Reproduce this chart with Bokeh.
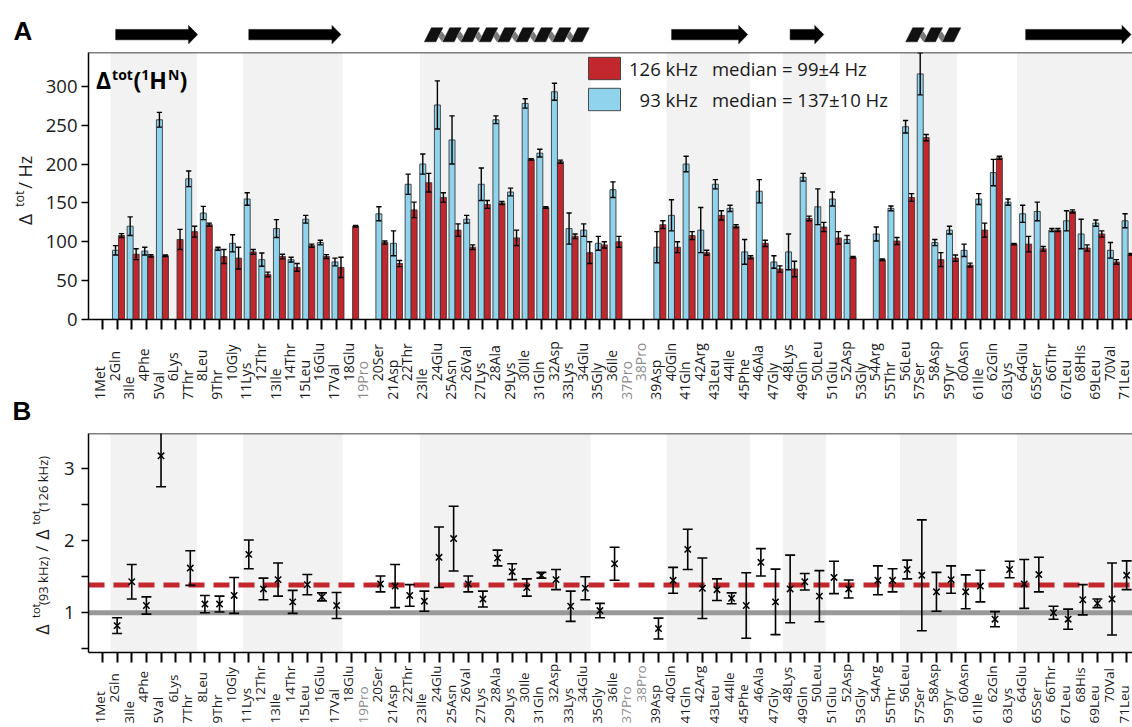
import math
from bokeh.plotting import figure
from bokeh.models import (Range1d, FixedTicker, ColumnDataSource,
                          BoxAnnotation, Span, Legend, LegendItem)
from bokeh.layouts import column, row
from bokeh.embed import file_html
from bokeh.resources import INLINE
from bokeh.core.properties import value

nan = float("nan")

# ---------------- data ----------------
residue_numbers = list(range(1, 72))
residue_names = ["Met", "Gln", "Ile", "Phe", "Val", "Lys", "Thr", "Leu", "Thr", "Gly",
                 "Lys", "Thr", "Ile", "Thr", "Leu", "Glu", "Val", "Glu", "Pro", "Ser",
                 "Asp", "Thr", "Ile", "Glu", "Asn", "Val", "Lys", "Ala", "Lys", "Ile",
                 "Gln", "Asp", "Lys", "Glu", "Gly", "Ile", "Pro", "Pro", "Asp", "Gln",
                 "Gln", "Arg", "Leu", "Ile", "Phe", "Ala", "Gly", "Lys", "Gln", "Leu",
                 "Glu", "Asp", "Gly", "Arg", "Thr", "Leu", "Ser", "Asp", "Tyr", "Asn",
                 "Ile", "Gln", "Lys", "Glu", "Ser", "Thr", "Leu", "His", "Leu", "Val", "Leu"]
tick_labels = [f"{n}{a}" for n, a in zip(residue_numbers, residue_names)]

# Delta_tot(1H^N) at 93 kHz (blue) and 126 kHz (red), Hz
delta_93 = [nan, 89, 120, 88, 257, nan, 181, 137, 91, 98,
            155, 77, 117, 77, 129, 99, 74, nan, nan, 136,
            98, 174, 200, 276, 231, 129, 174, 257, 164, 278,
            214, 293, 117, 115, 98, 167, nan, nan, 93, 134,
            200, 115, 174, 143, 87, 165, 74, 87, 183, 145,
            155, 103, nan, 110, 143, 248, 316, 99, 115, 89,
            155, 189, 151, 136, 139, 115, 127, 110, 124, 89, 127]
err_93 = [nan, 6, 12, 5, 9.5, nan, 10, 8.5, 2, 11,
          8, 8.5, 11.5, 3, 5, 3, 5, nan, nan, 9,
          16, 13, 13, 31, 31, 5, 21, 5, 5, 6,
          5, 11, 20, 8, 9, 10, nan, nan, 20, 20,
          10, 29, 6, 4, 16, 15, 8, 23, 5, 23,
          9, 5, nan, 9, 3, 8, 27, 4, 5, 8,
          7, 17, 4, 11, 12, 2, 13, 19, 4, 10, 9]
delta_126 = [nan, 108, 84, 82, 82, 103, 113, 122, 81, 79,
             87, 58, 81, 67, 95, 81, 67, 120, nan, 99,
             72, 141, 176, 157, 115, 93, 148, 150, 105, 206,
             144, 203, 107, 86, 96, 100, nan, nan, 122, 93,
             108, 86, 134, 120, 80, 98, 65, 65, 130, 119,
             105, 80, nan, 77, 101, 157, 234, 77, 79, 70,
             115, 208, 97, 97, 91, 115, 139, 92, 110, 74, 84]
err_126 = [nan, 2.5, 7, 1.5, 1, 13, 7, 2, 9, 14,
           3, 3, 3, 5, 2, 2.5, 13, 1, nan, 2,
           4, 10, 12, 6, 8, 3, 5, 2, 10, 1,
           1, 2, 3, 14, 4, 7, nan, nan, 5, 7,
           5, 3, 6, 2, 2, 4, 4, 10, 3, 6,
           8, 1, nan, 1, 4.5, 5, 4, 9, 4, 2.5,
           9, 2, 1, 10, 3, 2, 2, 4, 4, 3, 1]

# ratio Delta_tot(93 kHz) / Delta_tot(126 kHz)
ratio = [nan, 0.82, 1.43, 1.10, 3.18, nan, 1.62, 1.12, 1.12, 1.24,
         1.81, 1.33, 1.46, 1.15, 1.39, 1.22, 1.10, nan, nan, 1.40,
         1.37, 1.24, 1.16, 1.77, 2.03, 1.40, 1.19, 1.76, 1.57, 1.35,
         1.52, 1.46, 1.09, 1.34, 1.03, 1.68, nan, nan, 0.78, 1.45,
         1.88, 1.34, 1.32, 1.20, 1.10, 1.70, 1.15, 1.33, 1.43, 1.23,
         1.49, 1.33, nan, 1.45, 1.45, 1.60, 1.52, 1.29, 1.46, 1.29,
         1.37, 0.91, 1.60, 1.40, 1.53, 1.00, 0.91, 1.18, 1.13, 1.19, 1.52]
ratio_err = [nan, 0.11, 0.24, 0.12, 0.43, nan, 0.24, 0.12, 0.11, 0.25,
             0.20, 0.15, 0.23, 0.16, 0.14, 0.055, 0.18, nan, nan, 0.11,
             0.30, 0.15, 0.14, 0.42, 0.45, 0.11, 0.11, 0.11, 0.11, 0.12,
             0.04, 0.14, 0.21, 0.16, 0.10, 0.23, nan, nan, 0.145, 0.18,
             0.28, 0.42, 0.15, 0.076, 0.455, 0.19, 0.455, 0.47, 0.115, 0.355,
             0.225, 0.125, nan, 0.20, 0.16, 0.13, 0.77, 0.27, 0.19, 0.235,
             0.22, 0.105, 0.115, 0.34, 0.24, 0.09, 0.14, 0.21, 0.06, 0.50, 0.20]

median_126 = 99
median_126_err = 4
median_93 = 137
median_93_err = 10

# secondary structure (residue units)
strand_start = [1.9, 11.0, 39.9, 48.0, 64.1]
strand_end = [7.5, 17.3, 45.1, 50.3, 71.3]
helix_start = [23.0, 55.9]
helix_end = [34.4, 59.3]
shade_start = [1.55, 10.6, 22.7, 39.55, 47.5, 55.5, 63.5]
shade_end = [7.45, 17.4, 34.35, 45.25, 50.45, 59.4, 72.0]

y_ticks_top = [0, 50, 100, 150, 200, 250, 300]
y_ticks_ratio = [1, 2, 3]
y_minor_ratio = [0.5, 1.5, 2.5]

# ---------------- style / layout ----------------
FONT = "Open Sans"
RED = "#c1272d"
BLUE = "#8fd3ec"
OUTL = "#333333"
SHADE = "#f2f2f2"
TXT = "#1a1a1a"
W = 1132          # page width
FL = 88           # frame left (page px)
TWA = 40          # width of y-title strip, panel A
TWB = 56          # width of y-title strip, panel B
x_range = Range1d(0.043, 71.4)
PX = (x_range.end - x_range.start) / (W - FL)  # residues per pixel
x_full = Range1d(x_range.start - FL * PX, x_range.end)  # full-width strips


def strip(height, xr, yr, width=W):
    f = figure(width=width, height=height, x_range=xr, y_range=yr,
               x_axis_type=None, y_axis_type=None, toolbar_location=None,
               output_backend="svg", min_border_left=0, min_border_right=0,
               min_border_top=0, min_border_bottom=0)
    f.outline_line_color = None
    f.background_fill_color = "white"
    f.border_fill_color = "white"
    f.grid.visible = False
    return f


def rot_text(f, pieces):
    f.text(x=[p[1] for p in pieces], y=[p[2] for p in pieces], text=[p[0] for p in pieces],
           text_font_size=[p[3] for p in pieces], angle=math.pi / 2,
           text_align="left", text_baseline="middle", text_font=value(FONT), text_color=TXT)


# ---------------- secondary structure strip (page y 0..51 -> y = 51 - page_y) ----------------
pa = strip(51, x_full, Range1d(0, 51))
yc, bh, hh, hl = 16.9, 5.2, 9.2, 9 * PX
axs, ays = [], []
for s, e in zip(strand_start, strand_end):
    axs.append([s, e - hl, e - hl, e, e - hl, e - hl, s])
    ays.append([yc - bh, yc - bh, yc - hh, yc, yc + hh, yc + bh, yc + bh])
pa.patches(axs, ays, fill_color="black", line_color="black", line_width=0.5)

P, SL, WD = 18.3 * PX, 7 * PX, 11.5 * PX
yb, yt = 9.7, 23.7
hx, hy, dx, dy = [], [], [], []
for s, e in zip(helix_start, helix_end):
    starts = []
    b = s
    while b + SL + WD <= e + 6 * PX:
        starts.append(b)
        b += P
    for i, b in enumerate(starts):
        hx.append([b, b + WD, b + WD + SL, b + SL])
        hy.append([yb, yb, yt, yt])
        if i < len(starts) - 1:
            ym = 15.0
            xc = b + WD + (P - WD) / 2 + SL * (ym - yb) / (yt - yb)
            dx.append([xc, xc + 3.6 * PX, xc, xc - 3.6 * PX])
            dy.append([ym - 5.2, ym, ym + 5.2, ym])
pa.patches(hx, hy, fill_color="#111111", line_color="#111111", line_width=0.5)
pa.patches(dx, dy, fill_color="#7a7a7a", line_color=None)
pa.text(x=[x_full.start + 13 * PX], y=[21], text=["A"], text_font=value("Liberation Sans"),
        text_font_style="bold", text_font_size="26px", text_color="black",
        text_align="left", text_baseline="middle")

# ---------------- panel A (page y 51..331) ----------------
p1 = figure(width=W - TWA, height=280, x_range=x_range, y_range=Range1d(0, 343.5),
            toolbar_location=None, output_backend="svg",
            min_border_left=FL - TWA, min_border_right=0, min_border_top=1, min_border_bottom=12)
p1.grid.visible = False
p1.outline_line_color = None
p1.background_fill_color = "white"
p1.border_fill_color = "white"
for s, e in zip(shade_start, shade_end):
    p1.add_layout(BoxAnnotation(left=s, right=e, fill_color=SHADE, fill_alpha=1.0,
                                line_color=None, level="underlay"))
p1.add_layout(Span(location=343.5, dimension="width", line_color="black", line_width=1.5))

xb = [r - 0.11 for r in residue_numbers]
xr = [r + 0.30 for r in residue_numbers]
cap = 0.18
src1 = ColumnDataSource(dict(
    xb=xb, xr=xr,
    xb0=[x - cap for x in xb], xb1=[x + cap for x in xb],
    xr0=[x - cap for x in xr], xr1=[x + cap for x in xr],
    b=delta_93, blo=[v - e for v, e in zip(delta_93, err_93)], bhi=[v + e for v, e in zip(delta_93, err_93)],
    r=delta_126, rlo=[v - e for v, e in zip(delta_126, err_126)], rhi=[v + e for v, e in zip(delta_126, err_126)],
))
r_blue = p1.vbar(x="xb", top="b", bottom=0, width=0.41, source=src1, fill_color=BLUE,
                 line_color=OUTL, line_width=1, line_alpha=0.85)
r_red = p1.vbar(x="xr", top="r", bottom=0, width=0.41, source=src1, fill_color=RED,
                line_color=OUTL, line_width=1, line_alpha=0.85)
for xc_, x0_, x1_, lo, hi in (("xb", "xb0", "xb1", "blo", "bhi"), ("xr", "xr0", "xr1", "rlo", "rhi")):
    p1.segment(x0=xc_, y0=lo, x1=xc_, y1=hi, source=src1, line_color="black", line_width=1.4)
    p1.segment(x0=x0_, y0=lo, x1=x1_, y1=lo, source=src1, line_color="black", line_width=1.4)
    p1.segment(x0=x0_, y0=hi, x1=x1_, y1=hi, source=src1, line_color="black", line_width=1.4)

legend = Legend(items=[
    LegendItem(label=f"126 kHz\u00a0\u00a0\u00a0median = {median_126}\u00b1{median_126_err} Hz", renderers=[r_red]),
    LegendItem(label=f"\u200793 kHz\u00a0\u00a0\u00a0median = {median_93}\u00b1{median_93_err} Hz", renderers=[r_blue]),
], location=(496, 206), orientation="vertical", border_line_color=None,
    background_fill_alpha=0, padding=0, margin=0, spacing=3, glyph_width=40, glyph_height=28,
    label_standoff=5, label_text_font=FONT, label_text_font_size="18.5px",
    label_text_color=TXT, label_height=27)
p1.add_layout(legend)

p1.yaxis.ticker = FixedTicker(ticks=y_ticks_top)
p1.xaxis.ticker = FixedTicker(ticks=residue_numbers)
for ax in (p1.xaxis, p1.yaxis):
    ax.axis_line_width = 1.5
    ax.axis_line_color = "black"
    ax.major_tick_line_color = "black"
    ax.minor_tick_line_color = None
    ax.major_tick_in = 0
p1.yaxis.major_tick_out = 7
p1.yaxis.major_tick_line_width = 1.5
p1.yaxis.major_label_text_font = FONT
p1.yaxis.major_label_text_font_size = "18.5px"
p1.yaxis.major_label_text_color = TXT
p1.yaxis.major_label_standoff = 4
p1.xaxis.major_tick_out = 10
p1.xaxis.major_tick_line_width = 2
p1.xaxis.major_label_text_color = None
p1.xaxis.major_label_text_font_size = "0px"
p1.xaxis.major_label_standoff = 0

# panel title  Δ^tot(1H^N)  (x: px right of frame left, y: px above frame bottom, centre of text)
title_pieces = [("\u0394", 7.5, 239.6, "23px"), ("tot", 23.6, 244.6, "14px"), ("(", 45.0, 239.6, "23px"),
                ("1", 52.8, 244.6, "14px"), ("H", 60.8, 239.6, "23px"), ("N", 79.4, 244.6, "14px"),
                (")", 91.0, 239.6, "23px")]
sc = (p1.y_range.end - p1.y_range.start) / 267.0
p1.text(x=[x_range.start + t[1] * PX for t in title_pieces],
        y=[t[2] * sc for t in title_pieces], text=[t[0] for t in title_pieces],
        text_font_size=[t[3] for t in title_pieces], text_font=value(FONT), text_font_style="bold",
        text_color="black", text_align="left", text_baseline="middle")

# y title strip for A (page y 51..331 -> y = 331 - page_y)
tA = strip(280, Range1d(0, TWA), Range1d(0, 280), width=TWA)
rot_text(tA, [("\u0394", 24.3, 99, "19px"), ("tot", 19.2, 118, "12.5px"), ("/ Hz", 24.7, 137, "18px")])

# ---------------- tick labels A + "B" (page y 331..428 -> y = 428 - page_y) ----------------
tick_color = ["#8c8c8c" if a == "Pro" else TXT for a in residue_names]
sA = strip(97, x_full, Range1d(0, 97))
sA.text(x=residue_numbers, y=[47.2 if n % 2 == 0 else 28.8 for n in residue_numbers], text=tick_labels,
        text_color=tick_color, angle=math.pi / 2, text_align="left", text_baseline="middle",
        x_offset=-3, text_font=value(FONT), text_font_size="14px")
sA.text(x=[x_full.start + 12 * PX], y=[17.1], text=["B"], text_font=value("Liberation Sans"),
        text_font_style="bold", text_font_size="26px", text_color="black",
        text_align="left", text_baseline="middle")

# ---------------- panel B (page y 428..663) ----------------
p2 = figure(width=W - TWB, height=235, x_range=x_range, y_range=Range1d(0.447, 3.49),
            toolbar_location=None, output_backend="svg",
            min_border_left=FL - TWB, min_border_right=0, min_border_top=5, min_border_bottom=11)
p2.grid.visible = False
p2.outline_line_color = None
p2.background_fill_color = "white"
p2.border_fill_color = "white"
for s, e in zip(shade_start, shade_end):
    p2.add_layout(BoxAnnotation(left=s, right=e, fill_color=SHADE, fill_alpha=1.0,
                                line_color=None, level="underlay"))
p2.add_layout(Span(location=1.0, dimension="width", line_color="#999999", line_width=5, level="underlay"))
p2.add_layout(Span(location=median_93 / median_126, dimension="width", line_color=RED, line_width=5,
                   line_dash="16 9", level="underlay"))
p2.add_layout(Span(location=3.49, dimension="width", line_color="black", line_width=1.5))

cap2 = 0.34
src2 = ColumnDataSource(dict(
    x=residue_numbers, x0=[r - cap2 for r in residue_numbers], x1=[r + cap2 for r in residue_numbers],
    y=ratio, lo=[v - e for v, e in zip(ratio, ratio_err)], hi=[v + e for v, e in zip(ratio, ratio_err)],
))
p2.segment(x0="x", y0="lo", x1="x", y1="hi", source=src2, line_color="black", line_width=1.6)
p2.segment(x0="x0", y0="lo", x1="x1", y1="lo", source=src2, line_color="black", line_width=1.6)
p2.segment(x0="x0", y0="hi", x1="x1", y1="hi", source=src2, line_color="black", line_width=1.6)
p2.scatter(x="x", y="y", source=src2, marker="x", size=9, line_color="black", line_width=1.5)

p2.yaxis.ticker = FixedTicker(ticks=y_ticks_ratio, minor_ticks=y_minor_ratio)
p2.xaxis.ticker = FixedTicker(ticks=residue_numbers)
for ax in (p2.xaxis, p2.yaxis):
    ax.axis_line_width = 1.5
    ax.axis_line_color = "black"
    ax.major_tick_line_color = "black"
    ax.major_tick_in = 0
p2.yaxis.major_tick_out = 7
p2.yaxis.minor_tick_out = 7
p2.yaxis.minor_tick_in = 0
p2.yaxis.minor_tick_line_color = "black"
p2.yaxis.minor_tick_line_width = 1.5
p2.yaxis.major_tick_line_width = 1.5
p2.yaxis.major_label_text_font = FONT
p2.yaxis.major_label_text_font_size = "18.5px"
p2.yaxis.major_label_text_color = TXT
p2.yaxis.major_label_standoff = 7
p2.xaxis.minor_tick_line_color = None
p2.xaxis.major_tick_out = 10
p2.xaxis.major_tick_line_width = 2
p2.xaxis.major_label_text_color = None
p2.xaxis.major_label_text_font_size = "0px"
p2.xaxis.major_label_standoff = 0

# y title strip for B (page y 428..663 -> y = 663 - page_y)
tB = strip(235, Range1d(0, TWB), Range1d(0, 235), width=TWB)
rot_text(tB, [("\u0394", 41, 19, "18px"), ("tot", 35, 37, "11px"), ("(93 kHz)", 42, 51, "13px"),
              ("/", 41.8, 108, "16px"), ("\u0394", 41, 121, "18px"), ("tot", 35, 137, "11px"),
              ("(126 kHz)", 42, 151, "13px")])

# ---------------- tick labels B (page y 663..727 -> y = 727 - page_y) ----------------
sB = strip(64, x_full, Range1d(0, 64))
sB.text(x=residue_numbers, y=[25 if n % 2 == 0 else 4 for n in residue_numbers], text=tick_labels,
        text_color=tick_color, angle=math.pi / 2, text_align="left", text_baseline="middle",
        x_offset=-3, text_font=value(FONT), text_font_size="13.5px")

layout = column(pa, row(tA, p1, spacing=0), sA, row(tB, p2, spacing=0), sB, spacing=0)
open("out.html", "w").write(file_html(layout, INLINE))
